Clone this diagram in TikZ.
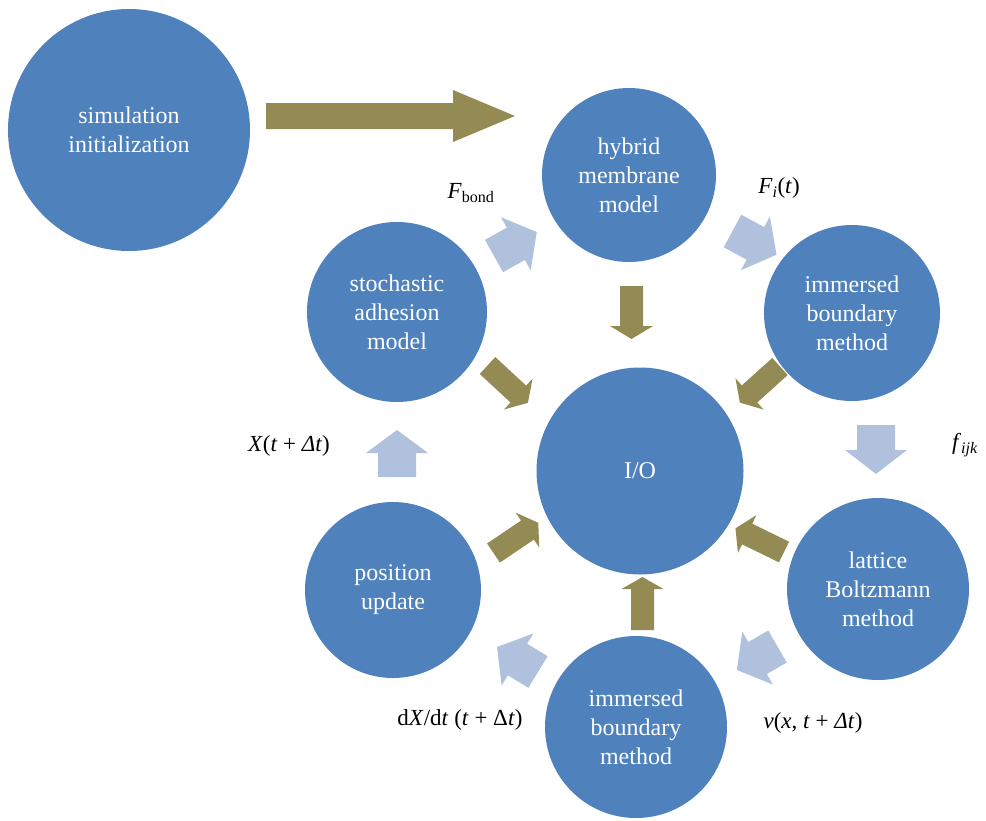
\documentclass[tikz,border=0pt]{standalone}
\usepackage{fontspec}
\setmainfont{Liberation Serif}
\definecolor{cblue}{HTML}{4F81BD}
\definecolor{colive}{HTML}{948A54}
\definecolor{clight}{HTML}{B0C1DD}
% #1 x, #2 y (tail centre), #3 angle, #4 length, #5 shaft half width, #6 head half width, #7 head length, #8 colour
\newcommand{\blockarr}[8]{%
  \fill[#8, shift={(#1,#2)}, rotate=#3] (0,-#5) -- ({#4-#7},-#5) -- ({#4-#7},-#6) -- (#4,0)
    -- ({#4-#7},#6) -- ({#4-#7},#5) -- (0,#5) -- cycle;}
\begin{document}
\begin{tikzpicture}[x=1pt,y=-1pt,
  circ/.style={circle, fill=cblue, draw=none, inner sep=0pt, text=white, align=center,
    font=\fontsize{24}{29}\selectfont},
  lab/.style={inner sep=0pt, font=\fontsize{23}{27}\selectfont}]
\useasboundingbox (0,0) rectangle (986,820);
% circles
\node[circ, minimum size=242pt] (init) at (129,130) {simulation\\initialization};
\node[circ, minimum size=174pt] (hmm) at (629,175) {hybrid\\membrane\\model};
\node[circ, minimum size=176pt] (ibm1) at (852,313) {immersed\\boundary\\method};
\node[circ, minimum size=182pt] (lbm) at (878,589) {lattice\\Boltzmann\\method};
\node[circ, minimum size=182pt] (ibm2) at (636,727) {immersed\\boundary\\method};
\node[circ, minimum size=176pt] (pos) at (393,590) {position\\update};
\node[circ, minimum size=180pt] (sam) at (397,312) {stochastic\\adhesion\\model};
\node[circ, minimum size=207pt] (io) at (640,471) {I/O};
% big arrow
\blockarr{266}{116}{0}{249}{13}{26}{62}{colive}
% olive arrows to I/O
\blockarr{631.5}{286}{-90}{53}{11.5}{21.5}{13}{colive}
\blockarr{642.5}{630}{90}{53}{11.5}{21}{12}{colive}
\blockarr{487.5}{365.5}{-42.8}{55}{11.5}{21}{13}{colive}
\blockarr{780}{366.5}{-138}{54}{11.5}{21}{13}{colive}
\blockarr{493.5}{553}{34}{54}{11.5}{21}{13}{colive}
\blockarr{784}{552}{154}{54}{11.5}{21}{13}{colive}
% light cycle arrows
\blockarr{494}{256}{29.2}{49}{18.5}{30.5}{24}{clight}
\blockarr{732.5}{231}{-28.3}{50}{18.5}{30.5}{24}{clight}
\blockarr{876}{425}{-90}{49}{19}{31}{24}{clight}
\blockarr{777.5}{646.5}{-150}{47}{18.5}{30.5}{24}{clight}
\blockarr{538}{672}{148.6}{48}{18.5}{30.5}{24}{clight}
\blockarr{397}{477}{90}{47}{19}{31}{23}{clight}
% labels
\node[lab] (lbond) at (471,193) {\textit{F}\textsubscript{bond}};
\node[lab] (lfi) at (779,188) {\textit{F}\textsubscript{\textit{i}}(\textit{t})};
\node[lab] (lfijk) at (965,445) {\textit{f}\textsubscript{\textit{ijk}}};
\node[lab] (lx) at (289,446) {\textit{X}(\textit{t} + \textit{Δt})};
\node[lab] (ldx) at (460,720) {d\textit{X}/d\textit{t} (\textit{t} + Δ\textit{t})};
\node[lab] (lv) at (813,723) {\textit{v}(\textit{x}, \textit{t} + \textit{Δt})};
\end{tikzpicture}
\end{document}
